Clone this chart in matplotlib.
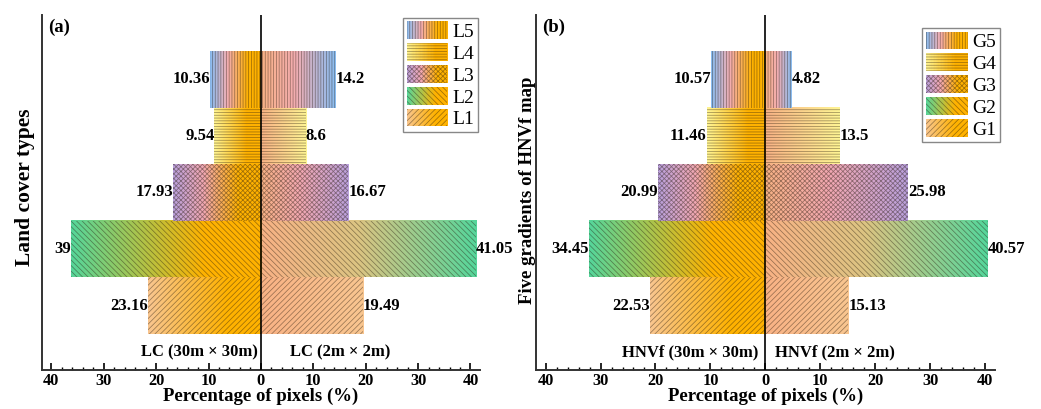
import matplotlib
matplotlib.use('Agg')
import numpy as np
import matplotlib.pyplot as plt
from matplotlib.patches import Rectangle
from matplotlib.colors import LinearSegmentedColormap
from matplotlib.legend_handler import HandlerBase
from matplotlib.ticker import MultipleLocator, FuncFormatter

plt.rcParams['font.family'] = ['Liberation Serif', 'DejaVu Serif']
plt.rcParams['hatch.linewidth'] = 0.55

# data (bottom -> top)
classes_a = ['L1', 'L2', 'L3', 'L4', 'L5']
lc_30m = [23.16, 39, 17.93, 9.54, 10.36]
lc_2m = [19.49, 41.05, 16.67, 8.6, 14.2]

classes_b = ['G1', 'G2', 'G3', 'G4', 'G5']
hnvf_30m = [22.53, 34.45, 20.99, 11.46, 10.57]
hnvf_2m = [15.13, 40.57, 25.98, 13.5, 4.82]

# styles
ORANGE = '#FFB200'
PEACH = '#F8B285'
HATCH_C = (0.15, 0.1, 0.05, 0.45)
base_cols = ['#F9C690', '#55D69B', '#B9A0DC', '#FFF594', '#88BDF2']
mid_left = [None, None, '#F2A8B2', None, '#F4ADB0']
mid_right = [None, '#DCC482', '#F2A8B2', None, '#F4ADB0']
hatches = ['/' * 6, '\\' * 6, 'x' * 7, '-' * 6, '|' * 6]

XMAX = 41.8
XMAX_LEFT = 44.9   # left half was drawn on its own, slightly compressed scale


def left_cmap(i):
    base, mid = base_cols[i], mid_left[i]
    if mid is None:
        stops = [(0, base), (0.7, ORANGE), (1, ORANGE)]
    else:
        stops = [(0, base), (0.35, mid), (0.75, ORANGE), (1, ORANGE)]
    return LinearSegmentedColormap.from_list('l%d' % i, stops)


def right_cmap(i):
    base, mid = base_cols[i], mid_right[i]
    if mid is None:
        stops = [(0, PEACH), (1, base)]
    else:
        stops = [(0, PEACH), (0.45, mid), (1, base)]
    return LinearSegmentedColormap.from_list('r%d' % i, stops)


class GradHandler(HandlerBase):
    def __init__(self, cmap, hatch):
        super().__init__()
        self.cmap = cmap
        self.hatch = hatch

    def create_artists(self, legend, orig_handle, xdescent, ydescent,
                       width, height, fontsize, trans):
        n = 30
        arts = []
        for k in range(n):
            arts.append(Rectangle((-xdescent + width * k / n, -ydescent),
                                  width / n * 1.05, height,
                                  facecolor=self.cmap((k + 0.5) / n),
                                  edgecolor='none', transform=trans))
        arts.append(Rectangle((-xdescent, -ydescent), width, height,
                              fill=False, hatch=self.hatch, edgecolor=HATCH_C,
                              lw=0, transform=trans))
        return arts


grad = np.linspace(0, 1, 256).reshape(1, -1)


def panel(rect, classes, left_vals, right_vals, tag, ylabel, ylab_x, ylab_y,
          ylab_size, left_txt, right_txt, txt_pos, leg_anchor, leg_hl):
    ax = fig.add_axes(rect)
    axl = ax.twiny()
    ys = np.arange(len(classes))
    for i, y in enumerate(ys):
        v = right_vals[i]
        ax.imshow(grad, cmap=right_cmap(i), extent=[0, v, y - 0.5, y + 0.5],
                  aspect='auto', interpolation='bicubic', zorder=1)
        ax.barh(y, v, height=1, fill=False, hatch=hatches[i],
                edgecolor=HATCH_C, linewidth=0, zorder=2)
        ax.text(v, y, str(v), ha='left', va='center', fontsize=12,
                fontweight='bold')
        v = left_vals[i]
        axl.imshow(grad, cmap=left_cmap(i), extent=[-v, 0, y - 0.5, y + 0.5],
                   aspect='auto', interpolation='bicubic', zorder=1)
        axl.barh(y, -v, height=1, fill=False, hatch=hatches[i],
                 edgecolor=HATCH_C, linewidth=0, zorder=2)
        axl.text(-v, y, str(v), ha='right', va='center', fontsize=12,
                 fontweight='bold')

    ax.set_xlim(-XMAX, XMAX)
    axl.set_xlim(-XMAX_LEFT, XMAX_LEFT)
    ax.set_ylim(-1.135, len(classes) - 1 + 1.135)
    axl.axis('off')
    axl.axvline(0, color='black', lw=1.2, zorder=5)

    for s in ['top', 'right']:
        ax.spines[s].set_visible(False)
    for s in ['left', 'bottom']:
        ax.spines[s].set_linewidth(1.4)
        ax.spines[s].set_color('#333333')
    ax.set_yticks([])
    ax.xaxis.set_major_locator(MultipleLocator(10))
    ax.xaxis.set_minor_locator(MultipleLocator(2))
    ax.xaxis.set_major_formatter(FuncFormatter(lambda x, p: '%d' % abs(round(x))))
    ax.tick_params(axis='x', which='major', direction='in', length=5,
                   width=1.2, pad=2, labelsize=11.8)
    ax.tick_params(axis='x', which='minor', direction='in', length=2.5, width=1)
    for lab in ax.get_xticklabels():
        lab.set_fontweight('bold')
    ax.set_xlabel('Percentage of pixels (%)', fontsize=13.5, fontweight='bold',
                  labelpad=-1)

    ax.text(0.013, 0.966, tag, transform=ax.transAxes, ha='left', va='center',
            fontsize=13.5, fontweight='bold')
    fig.text(ylab_x, ylab_y, ylabel, rotation=90, ha='center', va='center',
             fontsize=ylab_size, fontweight='bold')
    ax.text(txt_pos[0], -0.82, left_txt, ha='right', va='center',
            fontsize=12, fontweight='bold')
    ax.text(txt_pos[1], -0.82, right_txt, ha='left', va='center',
            fontsize=12, fontweight='bold')

    handles, hmap = [], {}
    for i in range(len(classes) - 1, -1, -1):
        h = Rectangle((0, 0), 1, 1, label=classes[i])
        handles.append(h)
        hmap[h] = GradHandler(left_cmap(i), hatches[i])
    axl.legend(handles=handles, handler_map=hmap, loc='upper right',
               bbox_to_anchor=leg_anchor, fontsize=14, fancybox=False,
               edgecolor='#888888', framealpha=1, handlelength=leg_hl,
               handleheight=1.0, labelspacing=0.13, handletextpad=0.25,
               borderpad=0.18, borderaxespad=0)
    return ax


fig = plt.figure(figsize=(10.41, 4.09), dpi=100)

panel([0.0403, 0.0954, 0.4207, 0.868], classes_a, lc_30m, lc_2m, '(a)',
      'Land cover types', 25 / 1041, 0.543, 15.5, 'LC (30m × 30m)',
      'LC (2m × 2m)', (-0.6, 5.5), (0.995, 0.9915), 2.1)
panel([0.5146, 0.0954, 0.4412, 0.868], classes_b, hnvf_30m, hnvf_2m, '(b)',
      'Five gradients of HNVf map', 527 / 1041, 0.535, 13.5,
      'HNVf (30m × 30m)', 'HNVf (2m × 2m)', (-1.2, 1.7), (1.011, 0.963), 2.15)

fig.savefig('out.png', dpi=100)
